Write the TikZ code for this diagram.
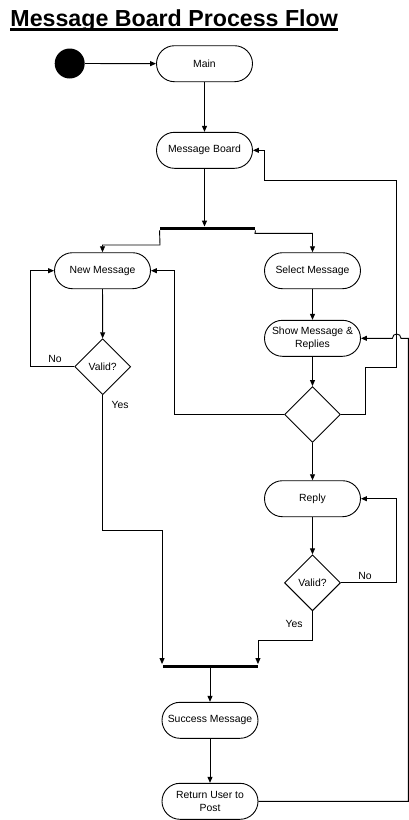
\documentclass[tikz,border=0pt]{standalone}
\usepackage{fontspec}
\setmainfont{Liberation Sans}
\usetikzlibrary{arrows.meta,shapes.geometric}
\begin{document}
\begin{tikzpicture}[x=1pt,y=-1pt,
  every path/.style={line width=0.9pt},
  arr/.style={-{Triangle[length=6pt,width=5pt]}},
  act/.style={draw, rectangle, rounded corners=18pt, minimum width=96pt, minimum height=36pt, inner sep=1pt, align=center, font=\fontsize{10.4}{12.5}\selectfont},
  dec/.style={draw, diamond, minimum width=56pt, minimum height=56pt, inner sep=0pt, font=\fontsize{10.4}{12.5}\selectfont},
  bar/.style={fill=black, rectangle, minimum width=95pt, minimum height=3pt, inner sep=0pt},
  lbl/.style={font=\fontsize{10.4}{12.5}\selectfont, inner sep=0pt}]
\useasboundingbox (0,0) rectangle (409,820);
% title
\node[anchor=base west, inner sep=0pt, font=\fontsize{23.2}{26}\selectfont\bfseries] (title) at (10,26) {Message Board Process Flow};
\draw[line width=2.4pt] ([yshift=-3.6pt]title.base west) -- ([yshift=-3.6pt]title.base east);
% nodes
\node[circle, fill=black, minimum size=30pt, inner sep=0pt] (start) at (69.7,63.5) {};
\node[act] (main) at (204.5,63.7) {Main};
\node[act] (mb) at (204.5,150.3) {Message Board};
\node[bar] (fork) at (207.5,228.5) {};
\node[act] (newmsg) at (102.5,270.7) {New Message};
\node[act] (selmsg) at (312.5,270.7) {Select Message};
\node[act] (show) at (312.5,338.3) {Show Message \&\\Replies};
\node[dec] (valid1) at (102.7,366.7) {Valid?};
\node[dec] (dec) at (312.5,414.5) {};
\node[act] (reply) at (312.5,498.7) {Reply};
\node[dec] (valid2) at (312.5,582.8) {Valid?};
\node[bar] (join) at (210,666) {};
\node[act] (success) at (210,720.3) {Success Message};
\node[act] (ret) at (210,801.3) {Return User to\\Post};
% coordinates
\coordinate (fl) at (160,245);
\coordinate (fr) at (255,233.3);
\coordinate (n1) at (30.3,366.7);
\coordinate (y1) at (102.7,530.7);
\coordinate (d1) at (174.3,414.5);
\coordinate (d2) at (365,414.5);
\coordinate (d3) at (365,367.7);
\coordinate (d4) at (396.7,367.7);
\coordinate (d5) at (396.7,180.7);
\coordinate (d6) at (264.3,180.7);
\coordinate (n2) at (396.7,582.8);
\coordinate (y2) at (312.5,640.7);
\coordinate (r1) at (408.3,801.3);
\coordinate (r2) at (408.3,338.3);
\coordinate (h1) at (401,338.3);
\coordinate (h2) at (392.4,338.3);
% connectors
\draw[arr] (start) -- (main);
\draw[arr] (main) -- (mb);
\draw[arr] (mb) -- (mb |- fork.north);
\draw[arr] (fork.south west) -- (fl) -| (newmsg.north);
\draw[arr] (fork.south east) -- (fr) -| (selmsg.north);
\draw[arr] (newmsg) -- (valid1);
\draw[arr] (selmsg) -- (show);
\draw[arr] (show) -- (dec);
\draw[arr] (dec) -- (reply);
\draw[arr] (reply) -- (valid2);
\draw[arr] (valid1.west) -- (n1) |- (newmsg.west);
\draw[arr] (valid1.south) -- (y1) -| (join.north west);
\draw[arr] (dec.west) -- (d1) |- (newmsg.east);
\draw[arr] (dec.east) -- (d2) -- (d3) -- (d4) -- (d5) -- (d6) |- (mb.east);
\draw[arr] (valid2.east) -- (n2) |- (reply.east);
\draw[arr] (valid2.south) -- (y2) -| (join.north east);
\draw[arr] (join) -- (success);
\draw[arr] (success) -- (ret);
\draw[arr] (ret.east) -- (r1) -- (r2) -- (h1) .. controls (401,332.6) and (392.4,332.6) .. (h2) -- (show.east);
% labels
\node[lbl] (lno1) at (55,359) {No};
\node[lbl] (lyes1) at (120,404.5) {Yes};
\node[lbl] (lno2) at (365,575.5) {No};
\node[lbl] (lyes2) at (294,623.5) {Yes};
\end{tikzpicture}
\end{document}
